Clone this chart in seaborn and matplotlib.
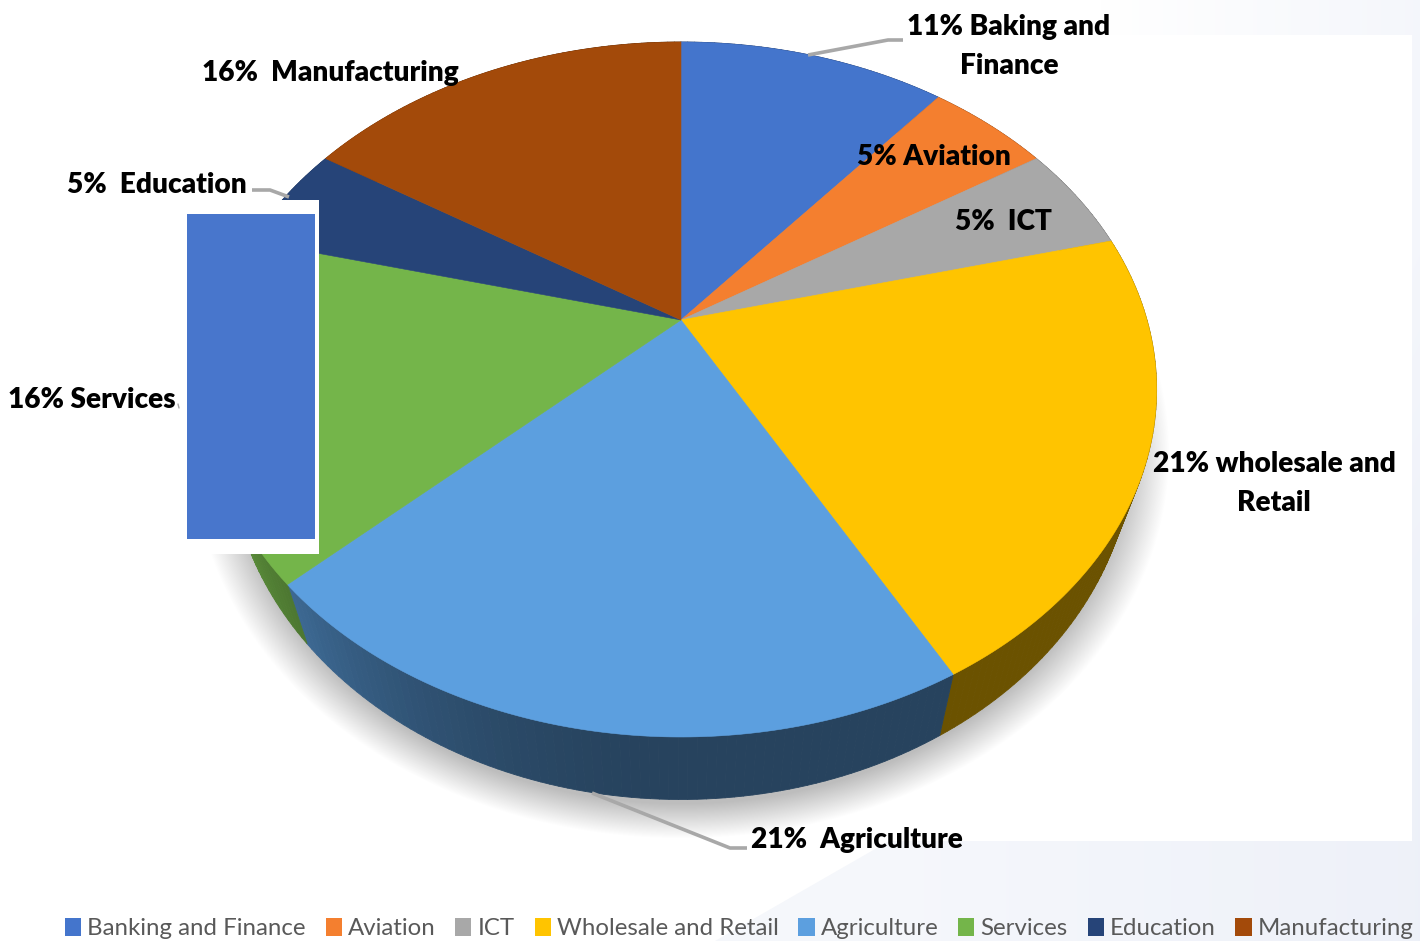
import numpy as np
import matplotlib
matplotlib.use("Agg")
import matplotlib.pyplot as plt
from matplotlib.collections import PolyCollection
from matplotlib.patches import Patch, Rectangle, Polygon
import seaborn as sns

# Employment sectors and their shares (percent), clockwise from twelve o'clock
sectors = ["Banking and Finance", "Aviation", "ICT", "Wholesale and Retail",
           "Agriculture", "Services", "Education", "Manufacturing"]
shares = [11, 5, 5, 21, 21, 16, 5, 16]
slice_colors = ["#4475CC", "#F47F2F", "#A8A8A8", "#FFC400",
                "#5C9FDF", "#74B54A", "#264478", "#A34A0A"]

sns.set_theme(style="white")
plt.rcParams["font.family"] = ["Lato", "DejaVu Sans"]
palette = sns.color_palette(slice_colors)

fig = plt.figure(figsize=(14.2, 9.41), dpi=100)
ax = fig.add_axes([0, 0, 1, 1])


def project(theta):
    """Tilted-disc projection of the top face; theta runs clockwise from the top."""
    x, y = np.sin(theta), np.cos(theta)
    d = 0.2 * y + 1
    return 681 + 466 * x / d, (320 - 269.6 * y) / d


def project_base(theta):
    """Matching point on the rim of the lower face of the disc."""
    px, py = project(theta)
    return 681 + (px - 681) * 0.95, 445 + (py - 390) * 355 / 347.5


# Pale page background with a white panel on top of it
h, w = 941, 1420
yy, xx = np.mgrid[0:h, 0:w]
tint_low = 0.55 + 0.45 * np.clip((xx - 900) / 520, 0, 1)
tint_top = 0.6 * np.clip((xx - 1100) / 320, 0, 1)
blend = np.clip((yy - 200) / 500, 0, 1)
tint = ((1 - blend) * tint_top + blend * tint_low)[..., None]
page = (1 - tint) * np.array([1.0, 1.0, 1.0]) + tint * np.array([0.933, 0.945, 0.976])
ax.imshow(page, extent=(0, w, h, 0), aspect="auto", zorder=0, interpolation="bilinear")
ax.add_patch(Rectangle((0, 35), 1412, 806, fc="white", ec="none", zorder=0.1))
ax.add_patch(Polygon([(0, 841), (889, 841), (715, 941), (0, 941)], fc="white", ec="none", zorder=0.1))

# Soft drop shadow under the disc
r = np.hypot((xx - 681) / 488, (yy - 452) / 386)
fade = np.clip((1.0 - r) / 0.09, 0, 1)
shadow = np.zeros((h, w, 4))
shadow[..., :3] = 0.68
shadow[..., 3] = 0.8 * fade
ax.imshow(shadow, extent=(0, w, h, 0), aspect="auto", zorder=1, interpolation="bilinear")

edges = 2 * np.pi * np.cumsum([0] + shares) / sum(shares)

# Side wall: thin quads shaded by their position around the rim
quads, quad_colors = [], []
for color, t0, t1 in zip(palette, edges[:-1], edges[1:]):
    steps = np.linspace(t0, t1, max(int((t1 - t0) * 60), 2))
    for a, b in zip(steps[:-1], steps[1:]):
        ax0, ay0 = project(a)
        ax1, ay1 = project(b)
        bx0, by0 = project_base(a)
        bx1, by1 = project_base(b)
        quads.append([(ax0, ay0), (ax1, ay1), (bx1, by1), (bx0, by0)])
        s = np.sin((a + b) / 2)
        shade = 0.42 + (0.45 * s ** 2 if s < 0 else 0.0)
        quad_colors.append(tuple(c * shade for c in color))
ax.add_collection(PolyCollection(quads, facecolors=quad_colors, edgecolors=quad_colors,
                                 linewidths=0.6, zorder=2))

# Top face of the disc
for color, t0, t1 in zip(palette, edges[:-1], edges[1:]):
    theta = np.linspace(t0, t1, 120)
    px, py = project(theta)
    ax.fill(np.r_[681, px], np.r_[320, py], color=color, lw=0.4, zorder=3)

# Leader lines from the labels
leader = dict(color="#A8A8A8", lw=2.6, solid_capstyle="butt", zorder=4)
ax.plot([808, 888, 903], [55, 40, 40], **leader)
ax.plot([252, 270, 289], [190, 190, 197], **leader)
ax.plot([592, 730, 747], [793, 848, 848], **leader)
ax.plot([178, 179], [404, 408], color="#A8A8A8", lw=1, zorder=4)

# Framed blue block covering part of the left side
ax.add_patch(Rectangle((180, 200), 139, 354, fc="white", ec="none", zorder=5))
ax.add_patch(Rectangle((187, 214), 128, 325, fc="#4876CC", ec="none", zorder=6))

# Slice labels
label_text = ["11% Baking and\nFinance", "5% Aviation", "5%  ICT", "21% wholesale and\nRetail",
              "21%  Agriculture", "16% Services", "5%  Education", "16%  Manufacturing"]
label_x = [1009, 934, 1003, 1274, 857, 92, 157, 330]
label_y = [46.5, 157, 222, 483.5, 840, 400, 185, 73]
for text, lx, ly in zip(label_text, label_x, label_y):
    ax.text(lx, ly, text, ha="center", va="center", fontsize=20.2, fontweight="heavy",
            color="black", linespacing=1.58, zorder=7)

ax.set_xlim(0, w)
ax.set_ylim(h, 0)
ax.axis("off")

handles = [Patch(fc=c, ec="none", label=s) for c, s in zip(palette, sectors)]
ax.legend(handles=handles, ncol=8, frameon=False, loc="lower left",
          bbox_to_anchor=(65 / w, 0.002), fontsize=17.3, labelcolor="#595959",
          handlelength=0.67, handleheight=0.8, handletextpad=0.25,
          columnspacing=0.83, borderpad=0, borderaxespad=0)

fig.savefig("out.png", dpi=100)
